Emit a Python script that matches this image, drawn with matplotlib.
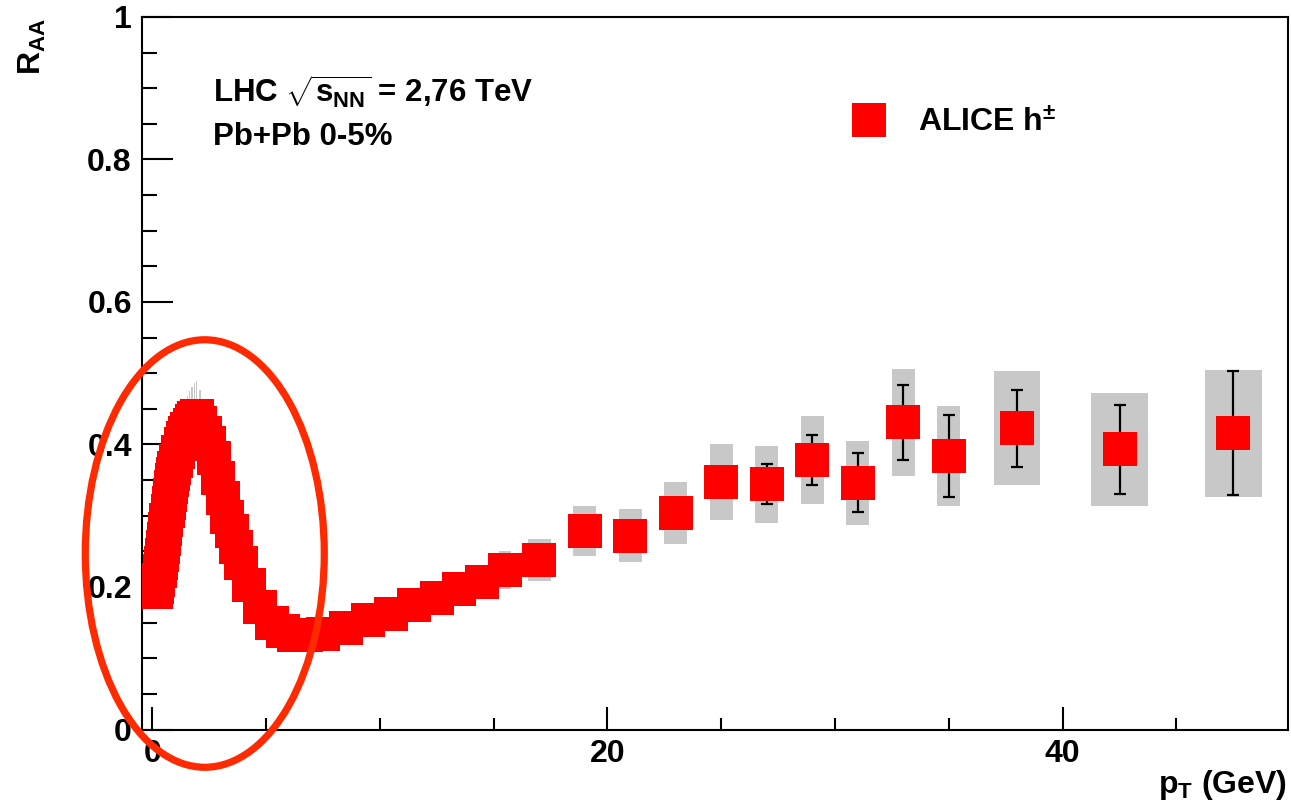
import matplotlib
matplotlib.use("Agg")
import matplotlib.pyplot as plt
from matplotlib.patches import Ellipse
from matplotlib.lines import Line2D

# ---------------- data ----------------
pt = [0.175, 0.225, 0.275, 0.325, 0.375, 0.425, 0.475, 0.525, 0.575, 0.625,
      0.675, 0.725, 0.775, 0.825, 0.875, 0.925, 0.975,
      1.05, 1.15, 1.25, 1.35, 1.45, 1.55, 1.65, 1.75, 1.85, 1.95,
      2.1, 2.3, 2.5, 2.7, 2.9, 3.1, 3.3, 3.5, 3.7, 3.9,
      4.25, 4.75, 5.25, 5.75, 6.25, 6.75,
      7.5, 8.5, 9.5, 10.5, 11.5, 12.5, 13.5, 14.5, 15.5,
      17, 19, 21, 23, 25, 27, 29, 31, 33, 35, 38, 42.5, 47.5]

pt_binw = [0.05] * 17 + [0.1] * 10 + [0.2] * 10 + [0.5] * 6 + [1.0] * 9 + \
          [2.0] * 10 + [4.0, 5.0, 5.0]

raa = [0.193, 0.200, 0.210, 0.222, 0.234, 0.245, 0.256, 0.268, 0.281, 0.294,
       0.307, 0.318, 0.329, 0.340, 0.350, 0.359, 0.367,
       0.377, 0.389, 0.400, 0.409, 0.416, 0.422, 0.428, 0.433, 0.437, 0.440,
       0.430, 0.416, 0.402, 0.381, 0.353, 0.325, 0.298, 0.278, 0.256, 0.234,
       0.203, 0.172, 0.150, 0.138, 0.133, 0.133,
       0.134, 0.143, 0.154, 0.162, 0.175, 0.184, 0.197, 0.207, 0.224,
       0.238, 0.279, 0.272, 0.304, 0.347, 0.344, 0.378, 0.3465, 0.431, 0.384,
       0.423, 0.393, 0.416]

raa_stat = [0.002] * 17 + [0.002] * 10 + [0.002] * 10 + [0.002] * 6 + \
           [0.003, 0.003, 0.003, 0.004, 0.004, 0.004, 0.005, 0.005, 0.006] + \
           [0.007, 0.009, 0.011, 0.014, 0.020, 0.028, 0.035, 0.041, 0.053, 0.058,
            0.054, 0.063, 0.087]

raa_sys = [0.021, 0.022, 0.023, 0.024, 0.026, 0.027, 0.028, 0.029, 0.031, 0.032,
           0.034, 0.035, 0.036, 0.037, 0.038, 0.039, 0.040,
           0.041, 0.043, 0.044, 0.045, 0.046, 0.046, 0.047, 0.048, 0.049, 0.049,
           0.047, 0.046, 0.044, 0.042, 0.039, 0.036, 0.033, 0.031, 0.028, 0.026,
           0.022, 0.019, 0.017, 0.015, 0.015, 0.015,
           0.015, 0.016, 0.017, 0.018, 0.019, 0.020, 0.022, 0.023, 0.027,
           0.029, 0.035, 0.037, 0.044, 0.053, 0.054, 0.062, 0.059, 0.0755, 0.070,
           0.080, 0.079, 0.089]

x_ticks = [0, 20, 40]
y_ticks = [0, 0.2, 0.4, 0.6, 0.8, 1.0]
y_ticklabels = ["0", "0.2", "0.4", "0.6", "0.8", "1"]
series_label = r"ALICE h$^{\pm}$"
info_line1 = r"LHC $\sqrt{s_{NN}}$ = 2,76 TeV"
info_line2 = "Pb+Pb 0-5%"

# ---------------- style ----------------
plt.rcParams["font.family"] = ["Liberation Sans", "DejaVu Sans"]
plt.rcParams["font.weight"] = "bold"
plt.rcParams["mathtext.fontset"] = "custom"
plt.rcParams["mathtext.rm"] = "Liberation Sans:bold"
plt.rcParams["mathtext.it"] = "Liberation Sans:bold"
plt.rcParams["mathtext.bf"] = "Liberation Sans:bold"
plt.rcParams["mathtext.sf"] = "Liberation Sans:bold"

W, H = 1291, 806
FS = 23
fig = plt.figure(figsize=(W / 100, H / 100), dpi=100)
L, R, T, B = 141.5, 1288, 17, 729.5
ax = fig.add_axes([L / W, (H - B) / H, (R - L) / W, (B - T) / H])

ax.set_xlim(-0.47, 49.9)
ax.set_ylim(0, 1)

# systematic boxes
sys_w = [0.5 * w for w in pt_binw]
sys_bottom = [r - s for r, s in zip(raa, raa_sys)]
sys_h = [2 * s for s in raa_sys]
ax.bar(pt, sys_h, bottom=sys_bottom, width=sys_w, color="#c8c8c8",
       edgecolor="none", zorder=2)

# statistical error bars
ax.errorbar(pt, raa, yerr=raa_stat, fmt="none", ecolor="black",
            elinewidth=1.6, capsize=4.3, capthick=1.6, zorder=3)

# markers
ax.plot(pt, raa, linestyle="none", marker="s", markersize=23.8,
        markerfacecolor="#ff0000", markeredgewidth=0, zorder=4)

# ticks / frame
for sp in ax.spines.values():
    sp.set_linewidth(1.5)
ax.set_xticks(x_ticks)
ax.set_xticks([v for v in range(5, 50, 5) if v % 20 != 0], minor=True)
ax.set_yticks(y_ticks)
ax.set_yticks([i * 0.05 for i in range(21) if i % 4 != 0], minor=True)
ax.set_yticklabels(y_ticklabels)
ax.tick_params(axis="both", which="both", direction="in", top=False,
               right=False, width=1.5, labelsize=FS)
ax.tick_params(axis="y", which="major", length=22, pad=7)
ax.tick_params(axis="y", which="minor", length=11)
ax.tick_params(axis="x", which="major", length=16.5, pad=7)
ax.tick_params(axis="x", which="minor", length=8.3)
for lab in ax.get_xticklabels() + ax.get_yticklabels():
    lab.set_fontweight("bold")

# legend
handle = Line2D([], [], linestyle="none", marker="s", markersize=23.8,
                markerfacecolor="#ff0000", markeredgewidth=0)
ax.legend([handle], [series_label], loc="center left",
          bbox_to_anchor=((853.3 - L) / (R - L), (B - 123) / (B - T)),
          frameon=False, fontsize=FS, handlelength=1.0, handletextpad=1.03,
          borderpad=0, borderaxespad=0)

# annotation text
fig.text(213 / W, 1 - 103 / H, info_line1, fontsize=22.5, fontweight="bold",
         ha="left", va="baseline")
fig.text(213 / W, 1 - 145 / H, info_line2, fontsize=22.5, fontweight="bold",
         ha="left", va="baseline")

# axis titles
fig.text(32 / W, 1 - 18 / H, r"R$_{AA}$", fontsize=FS, fontweight="bold",
         rotation=90, ha="center", va="top")
fig.text(1287 / W, 1 - 793 / H, r"p$_{T}$ (GeV)", fontsize=FS,
         fontweight="bold", ha="right", va="baseline")

# red highlight ellipse around the low-pT region
ell = Ellipse(xy=(2.31, 0.247), width=10.5, height=0.60, angle=0,
              fill=False, edgecolor="#ff2a00", linewidth=5.2, zorder=6,
              clip_on=False)
ax.add_patch(ell)

fig.savefig("out.png", dpi=100)
